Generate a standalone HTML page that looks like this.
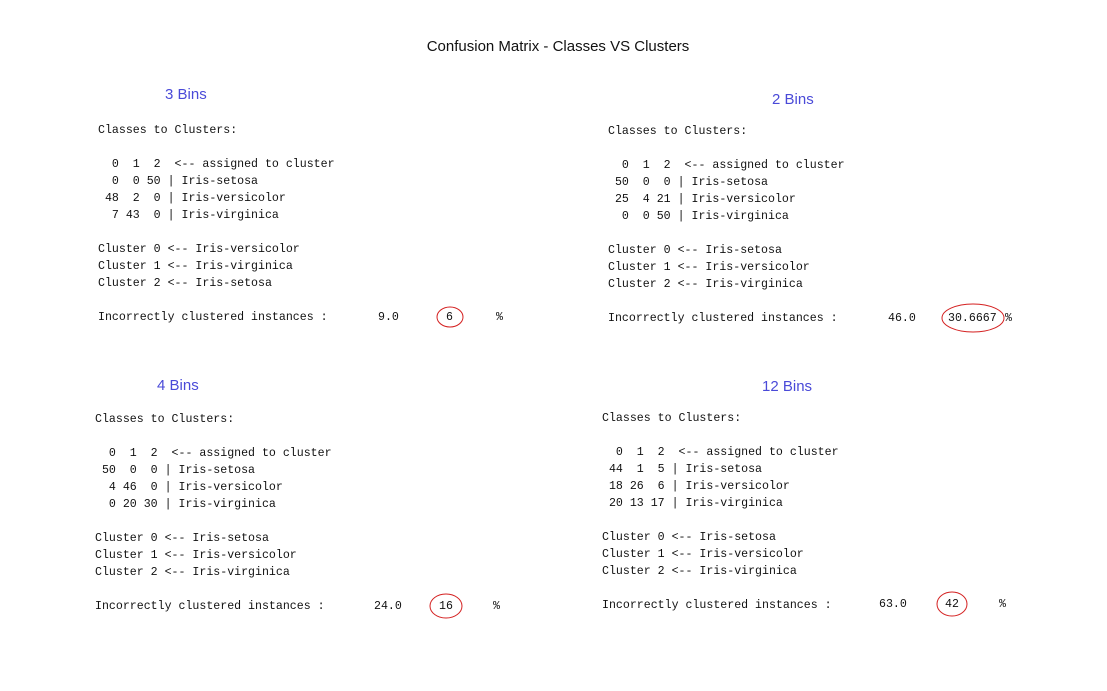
<!DOCTYPE html>
<html><head><meta charset="utf-8"><style>
body{margin:0;width:1107px;height:691px;background:#fff;position:relative;overflow:hidden}
.m{position:absolute;font-family:"Liberation Mono",monospace;font-size:11.6px;line-height:17px;color:#111;white-space:pre;margin:0}
.h{position:absolute;font-family:"Liberation Sans",sans-serif;font-size:15px;color:#4a4ad8;white-space:nowrap}
.ti{position:absolute;font-family:"Liberation Sans",sans-serif;font-size:15px;color:#111;left:0;width:1116px;text-align:center;top:38px}
</style></head><body>
<div class="ti">Confusion Matrix - Classes VS Clusters</div>

<div class="h" style="left:165px;top:86px">3 Bins</div>
<pre class="m" style="left:98px;top:122px">Classes to Clusters:

  0  1  2  &lt;-- assigned to cluster
  0  0 50 | Iris-setosa
 48  2  0 | Iris-versicolor
  7 43  0 | Iris-virginica

Cluster 0 &lt;-- Iris-versicolor
Cluster 1 &lt;-- Iris-virginica
Cluster 2 &lt;-- Iris-setosa

Incorrectly clustered instances :</pre>
<div class="m" style="left:378px;top:309px">9.0</div>
<div class="m" style="left:446px;top:309px">6</div>
<div class="m" style="left:496px;top:309px">%</div>

<div class="h" style="left:772px;top:91px">2 Bins</div>
<pre class="m" style="left:608px;top:123px">Classes to Clusters:

  0  1  2  &lt;-- assigned to cluster
 50  0  0 | Iris-setosa
 25  4 21 | Iris-versicolor
  0  0 50 | Iris-virginica

Cluster 0 &lt;-- Iris-setosa
Cluster 1 &lt;-- Iris-versicolor
Cluster 2 &lt;-- Iris-virginica

Incorrectly clustered instances :</pre>
<div class="m" style="left:888px;top:310px">46.0</div>
<div class="m" style="left:948px;top:310px">30.6667</div>
<div class="m" style="left:1005px;top:310px">%</div>

<div class="h" style="left:157px;top:377px">4 Bins</div>
<pre class="m" style="left:95px;top:411px">Classes to Clusters:

  0  1  2  &lt;-- assigned to cluster
 50  0  0 | Iris-setosa
  4 46  0 | Iris-versicolor
  0 20 30 | Iris-virginica

Cluster 0 &lt;-- Iris-setosa
Cluster 1 &lt;-- Iris-versicolor
Cluster 2 &lt;-- Iris-virginica

Incorrectly clustered instances :</pre>
<div class="m" style="left:374px;top:598px">24.0</div>
<div class="m" style="left:439px;top:598px">16</div>
<div class="m" style="left:493px;top:598px">%</div>

<div class="h" style="left:762px;top:378px">12 Bins</div>
<pre class="m" style="left:602px;top:410px">Classes to Clusters:

  0  1  2  &lt;-- assigned to cluster
 44  1  5 | Iris-setosa
 18 26  6 | Iris-versicolor
 20 13 17 | Iris-virginica

Cluster 0 &lt;-- Iris-setosa
Cluster 1 &lt;-- Iris-versicolor
Cluster 2 &lt;-- Iris-virginica

Incorrectly clustered instances :</pre>
<div class="m" style="left:879px;top:596px">63.0</div>
<div class="m" style="left:945px;top:596px">42</div>
<div class="m" style="left:999px;top:596px">%</div>

<svg width="1107" height="691" style="position:absolute;left:0;top:0" fill="none" stroke="#d42020" stroke-width="1">
<ellipse cx="450" cy="317" rx="13" ry="10"/>
<ellipse cx="973" cy="318" rx="31" ry="14"/>
<ellipse cx="446" cy="606" rx="16" ry="12"/>
<ellipse cx="952" cy="604" rx="15" ry="12"/>
</svg>
</body></html>
